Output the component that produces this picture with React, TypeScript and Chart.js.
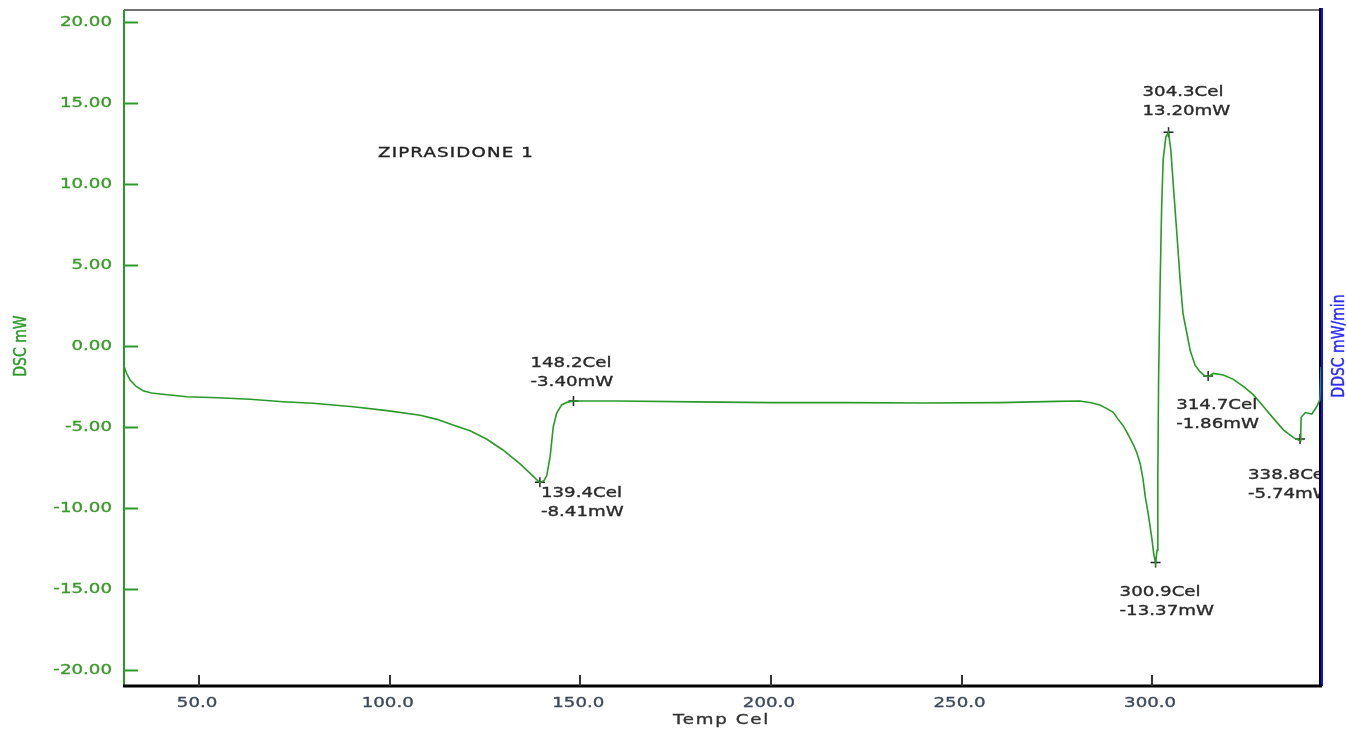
import React, { useEffect, useRef } from "react";
import { Chart, registerables } from "chart.js";

Chart.register(...registerables);

// ---- data ----
const temps = [
  30.3, 31.0, 31.9, 33.5, 35.3, 37.5, 39.8, 46.8, 55, 63.4, 72.0, 79.9, 90.4, 99.3,
  108.0, 112.4, 116.6, 121.1, 125.5, 129.7, 134.2, 137.0, 139.4, 140.5, 141.2, 142.1,
  142.9, 143.8, 145.1, 146.5, 148.2, 160, 180, 200, 220, 240, 260, 275, 281, 284,
  286.3, 288, 289.8, 291, 292.5, 294, 295.1, 296.0, 296.9, 297.6, 298.2, 299.0, 299.5,
  300.0, 300.4, 300.9, 301.3, 301.5, 301.7, 302.1, 302.5, 302.9, 303.6, 304.3, 304.9,
  305.6, 306.5, 307.4, 308.1, 309.1, 310.0, 311.3, 312.6, 313.6, 314.7, 316.1, 318.7,
  321.3, 324.0, 326.6, 329.2, 331.8, 334.5, 337.1, 338.8, 339.0, 339.1, 340.2, 341.9,
  343.2, 344.0, 344.3,
];
const dsc = [
  -1.25, -1.7, -2.1, -2.5, -2.76, -2.9, -2.96, -3.13, -3.2, -3.29, -3.44, -3.54, -3.75, -3.99,
  -4.28, -4.53, -4.88, -5.23, -5.76, -6.42, -7.28, -7.9, -8.45, -8.3, -8.0, -6.8,
  -5.0, -4.14, -3.64, -3.48, -3.4, -3.4, -3.45, -3.5, -3.5, -3.52, -3.5, -3.42, -3.4, -3.5,
  -3.65, -3.85, -4.1, -4.5, -4.95, -5.6, -6.1, -6.6, -7.3, -8.2, -9.3, -10.4, -11.2,
  -12.0, -12.8, -13.37, -12.6, -8.0, -2.0, 3.9, 8.6, 11.5, 12.9, 13.2, 12.1,
  9.8, 6.9, 3.9, 2.0, 0.8, -0.3, -1.2, -1.6, -1.8, -1.89, -1.69, -1.79,
  -2.06, -2.51, -3.02, -3.74, -4.47, -5.19, -5.66, -5.85, -5.2, -4.4, -4.11, -4.2,
  -3.74, -3.33, -1.28,
];

const peakTemps = [139.4, 148.2, 300.9, 304.3, 314.7, 338.8];
const peakValues = [-8.41, -3.4, -13.37, 13.2, -1.86, -5.74];

const xTickValues = [50, 100, 150, 200, 250, 300];
const yTickValues = [-20, -15, -10, -5, 0, 5, 10, 15, 20];

const sampleName = "ZIPRASIDONE 1";
const xTitle = "Temp Cel";
const yTitle = "DSC mW";
const y2Title = "DDSC mW/min";

// ---- layout (label offsets relative to each marker, in px) ----
const labelOffsets = [
  [1, 11],
  [-43, -38],
  [-36, 30],
  [-26, -40],
  [-32, 29],
  [-52, 36],
];

const X_MIN = 30.3;
const X_MAX = 344.3;
const Y_MIN = -20.99;
const Y_MAX = 20.74;

const FONT = "'DejaVu Sans', Verdana, sans-serif";
const SX = 1.3;

function drawText(
  ctx: CanvasRenderingContext2D,
  text: string,
  x: number,
  y: number,
  opts: { color: string; size: number; align?: CanvasTextAlign; sx?: number; spacing?: number; rotate?: boolean }
) {
  ctx.save();
  ctx.translate(x, y);
  if (opts.rotate) {
    ctx.rotate(-Math.PI / 2);
    ctx.scale(1, opts.sx ?? 1);
  } else {
    ctx.scale(opts.sx ?? SX, 1);
  }
  ctx.font = `${opts.size}px ${FONT}`;
  (ctx as any).letterSpacing = `${opts.spacing ?? 0}px`;
  ctx.fillStyle = opts.color;
  ctx.strokeStyle = opts.color;
  ctx.lineWidth = 0.35;
  ctx.textAlign = opts.align ?? "left";
  ctx.textBaseline = "middle";
  ctx.fillText(text, 0, 0);
  ctx.strokeText(text, 0, 0);
  ctx.restore();
}

const framePlugin = {
  id: "dscFrame",
  beforeDatasetsDraw(chart: any) {
    const { ctx, chartArea } = chart;
    const { left, right, top, bottom } = chartArea;
    const xs = chart.scales.x;
    const ys = chart.scales.y;
    ctx.save();
    ctx.strokeStyle = "#444";
    ctx.lineWidth = 1.5;
    ctx.beginPath();
    ctx.moveTo(left, top);
    ctx.lineTo(right, top);
    ctx.stroke();
    ctx.strokeStyle = "#2a9a2a";
    ctx.lineWidth = 2;
    ctx.beginPath();
    ctx.moveTo(left, top);
    ctx.lineTo(left, bottom);
    ctx.stroke();
    yTickValues.forEach((v) => {
      const py = Math.round(ys.getPixelForValue(v)) + 0.5;
      ctx.beginPath();
      ctx.moveTo(left, py);
      ctx.lineTo(left + 14, py);
      ctx.stroke();
    });
    ctx.strokeStyle = "#000";
    ctx.lineWidth = 2;
    ctx.beginPath();
    ctx.moveTo(right - 1, top - 2);
    ctx.lineTo(right - 1, bottom);
    ctx.stroke();
    ctx.strokeStyle = "#1010ff";
    ctx.beginPath();
    ctx.moveTo(right + 1, top - 2);
    ctx.lineTo(right + 1, bottom);
    ctx.stroke();
    ctx.strokeStyle = "#000";
    ctx.lineWidth = 3;
    ctx.beginPath();
    ctx.moveTo(left - 1, bottom);
    ctx.lineTo(right + 1, bottom);
    ctx.stroke();
    ctx.strokeStyle = "#333";
    ctx.lineWidth = 2;
    xTickValues.forEach((v) => {
      const px = Math.round(xs.getPixelForValue(v));
      ctx.beginPath();
      ctx.moveTo(px, bottom - 11);
      ctx.lineTo(px, bottom);
      ctx.stroke();
    });
    ctx.restore();
  },
  afterDraw(chart: any) {
    const { ctx, chartArea } = chart;
    const { left, right, top, bottom } = chartArea;
    const xs = chart.scales.x;
    const ys = chart.scales.y;
    yTickValues.forEach((v) => {
      drawText(ctx, v.toFixed(2), left - 12, ys.getPixelForValue(v), {
        color: "#3a9a2a",
        size: 14,
        align: "right",
      });
    });
    xTickValues.forEach((v) => {
      drawText(ctx, v.toFixed(1), xs.getPixelForValue(v) - 2, bottom + 17, {
        color: "#3b4a5c",
        size: 14,
        align: "center",
      });
    });
    drawText(ctx, xTitle, (left + right) / 2 - 1, bottom + 34, {
      color: "#333",
      size: 14,
      align: "center",
      spacing: 1.3,
    });
    drawText(ctx, yTitle, 21, ys.getPixelForValue(0), {
      color: "#2a9a2a",
      size: 14,
      align: "center",
      rotate: true,
      sx: 1.3,
    });
    drawText(ctx, y2Title, 1339, 346, {
      color: "#2a2aff",
      size: 14,
      align: "center",
      rotate: true,
      sx: 1.3,
    });
    ctx.save();
    ctx.beginPath();
    ctx.rect(left, top, right - left - 2, bottom - top);
    ctx.clip();
    drawText(ctx, sampleName, 378, 153, { color: "#222", size: 14, spacing: 0.9 });
    peakTemps.forEach((t, i) => {
      const px = xs.getPixelForValue(t);
      const py = ys.getPixelForValue(peakValues[i]);
      const [dx, dy] = labelOffsets[i];
      drawText(ctx, `${t.toFixed(1)}Cel`, px + dx, py + dy, { color: "#2a2a2a", size: 14 });
      drawText(ctx, `${peakValues[i].toFixed(2)}mW`, px + dx, py + dy + 19, { color: "#2a2a2a", size: 14 });
    });
    ctx.restore();
  },
};

export default function App() {
  const ref = useRef<HTMLCanvasElement>(null);
  useEffect(() => {
    if (!ref.current) return;
    const chart = new Chart(ref.current, {
      type: "line",
      data: {
        datasets: [
          {
            type: "line",
            data: temps.map((t, i) => ({ x: t, y: dsc[i] })),
            borderColor: "#289a28",
            borderWidth: 1.6,
            pointRadius: 0,
            fill: false,
            tension: 0,
          },
          {
            type: "scatter",
            data: peakTemps.map((t, i) => ({ x: t, y: peakValues[i] })),
            pointStyle: "cross",
            pointRadius: 5,
            borderColor: "#222",
            backgroundColor: "#222",
            borderWidth: 1.5,
          },
        ],
      } as any,
      options: {
        responsive: false,
        animation: false,
        layout: { padding: { left: 124, right: 26, top: 10, bottom: 43 } },
        plugins: { legend: { display: false }, tooltip: { enabled: false } },
        scales: {
          x: { type: "linear", min: X_MIN, max: X_MAX, display: false },
          y: { type: "linear", min: Y_MIN, max: Y_MAX, display: false },
        },
      } as any,
      plugins: [framePlugin],
    });
    return () => chart.destroy();
  }, []);
  return (
    <div style={{ position: "fixed", left: 0, top: 0, width: 1347, height: 729, background: "#fff" }}>
      <canvas ref={ref} width={1347} height={729} style={{ display: "block" }} />
    </div>
  );
}
